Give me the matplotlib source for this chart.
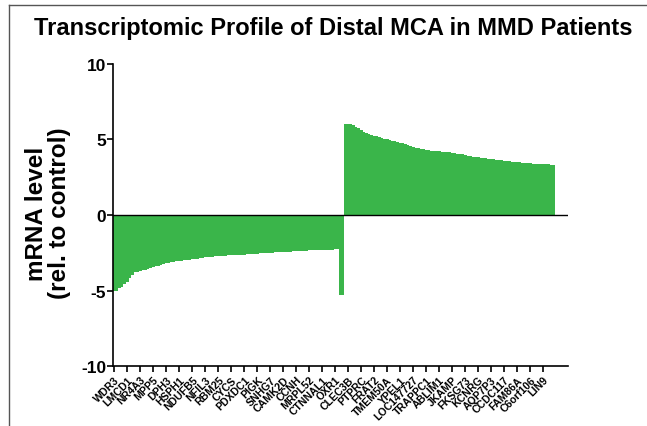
import numpy as np
import matplotlib.pyplot as plt
from matplotlib.lines import Line2D

plt.rcParams['font.family'] = ['Liberation Sans', 'DejaVu Sans']
plt.rcParams['font.weight'] = 'bold'

# genes are ordered: down-regulated first, then up-regulated
down_values = [-5.05, -5.0, -4.85, -4.75, -4.6, -4.45, -4.2, -3.95, -3.8, -3.75,
               -3.7, -3.65, -3.62, -3.55, -3.5, -3.47, -3.4, -3.35, -3.3, -3.25,
               -3.2, -3.15, -3.12, -3.09, -3.07, -3.05, -3.03, -3.0, -2.98, -2.96,
               -2.94, -2.92, -2.9, -2.87, -2.84, -2.81, -2.79, -2.77, -2.75, -2.73,
               -2.72, -2.71, -2.7, -2.69, -2.68, -2.67, -2.66, -2.65, -2.64, -2.63,
               -2.62, -2.61, -2.6, -2.58, -2.57, -2.56, -2.54, -2.53, -2.52, -2.51,
               -2.5, -2.49, -2.48, -2.47, -2.46, -2.45, -2.44, -2.43, -2.42, -2.41,
               -2.4, -2.39, -2.38, -2.37, -2.36, -2.35, -2.34, -2.33, -2.32, -2.31,
               -2.31, -2.3, -2.3, -2.29, -2.29, -2.28, -2.28, -5.3, -5.3]

up_values = [6.0, 6.0, 6.0, 5.95, 5.8, 5.75, 5.6, 5.5, 5.45, 5.35,
             5.3, 5.25, 5.2, 5.15, 5.1, 5.05, 5.0, 4.95, 4.92, 4.88,
             4.85, 4.8, 4.75, 4.7, 4.62, 4.55, 4.5, 4.45, 4.42, 4.38,
             4.35, 4.32, 4.3, 4.27, 4.25, 4.23, 4.21, 4.2, 4.18, 4.16,
             4.14, 4.12, 4.1, 4.07, 4.05, 4.02, 3.98, 3.93, 3.9, 3.87,
             3.85, 3.82, 3.8, 3.78, 3.76, 3.74, 3.72, 3.7, 3.67, 3.64,
             3.62, 3.6, 3.58, 3.56, 3.54, 3.52, 3.5, 3.48, 3.46, 3.45,
             3.43, 3.42, 3.41, 3.4, 3.39, 3.38, 3.37, 3.36, 3.35, 3.34,
             3.32]

# only every 5th gene is labelled on the axis
tick_genes = ['WDR3', 'LMCD1', 'NR4A3', 'MPP5', 'DPH3', 'HSPH1', 'NDUFB5', 'NFIL3',
              'RBM25', 'CYCS', 'PDXDC1', 'PIGK', 'SNHG7', 'CAMK2D', 'CCNH', 'MRPL52',
              'CTNNAL1', 'OXR1', 'CLEC3B', 'PTPRC', 'FRAT2', 'TMEM50A', 'YPEL1',
              'LOC147727', 'TRAPPC1', 'ABLIM1', 'JKAMP', 'FKSG73', 'KCNRG', 'AQP7P3',
              'CCDC117', 'FAM86A', 'C6orf106', 'LIN9']
LABEL_STEP = 5

values = down_values + up_values
x = np.arange(len(values))

fig = plt.figure(figsize=(6.47, 4.27), dpi=100)
ax = fig.add_axes([0.1747, 0.1405, 0.7032, 0.7073])

ax.bar(x, values, width=1.0, align='edge', color='#3ab54a', linewidth=0)
ax.axhline(0, color='black', lw=1.0)

ax.set_xlim(0, 175)
ax.set_ylim(-10, 10)
ax.set_yticks([-10, -5, 0, 5, 10])
ax.set_yticklabels(['-10', '-5', '0', '5', '10'], fontsize=12.5, fontweight='bold')

ticks = np.arange(len(tick_genes)) * LABEL_STEP + 0.5
ax.set_xticks(ticks)
ax.set_xticklabels(tick_genes, rotation=45, ha='right', rotation_mode='anchor',
                   fontsize=7.6, fontweight='bold')

for side in ['top', 'right']:
    ax.spines[side].set_visible(False)
for side in ['left', 'bottom']:
    ax.spines[side].set_linewidth(1.2)
ax.tick_params(axis='both', direction='out', length=4, width=1.2)
ax.tick_params(axis='x', pad=2)
ax.tick_params(axis='y', pad=1)

fig.text(48 / 647, 0.5, 'mRNA level\n(rel. to control)', rotation=90,
         ha='center', va='center', fontsize=17.5, fontweight='bold', linespacing=1.05)

fig.text(0.515, 0.934, 'Transcriptomic Profile of Distal MCA in MMD Patients',
         ha='center', va='center', fontsize=17, fontweight='bold')

# thin frame lines from the original figure panel
fig.add_artist(Line2D([9 / 647, 1], [1 - 6 / 427, 1 - 6 / 427], color='#555555', lw=1))
fig.add_artist(Line2D([9 / 647, 9 / 647], [0, 1 - 6 / 427], color='#555555', lw=1))

fig.savefig('out.png', dpi=100)
